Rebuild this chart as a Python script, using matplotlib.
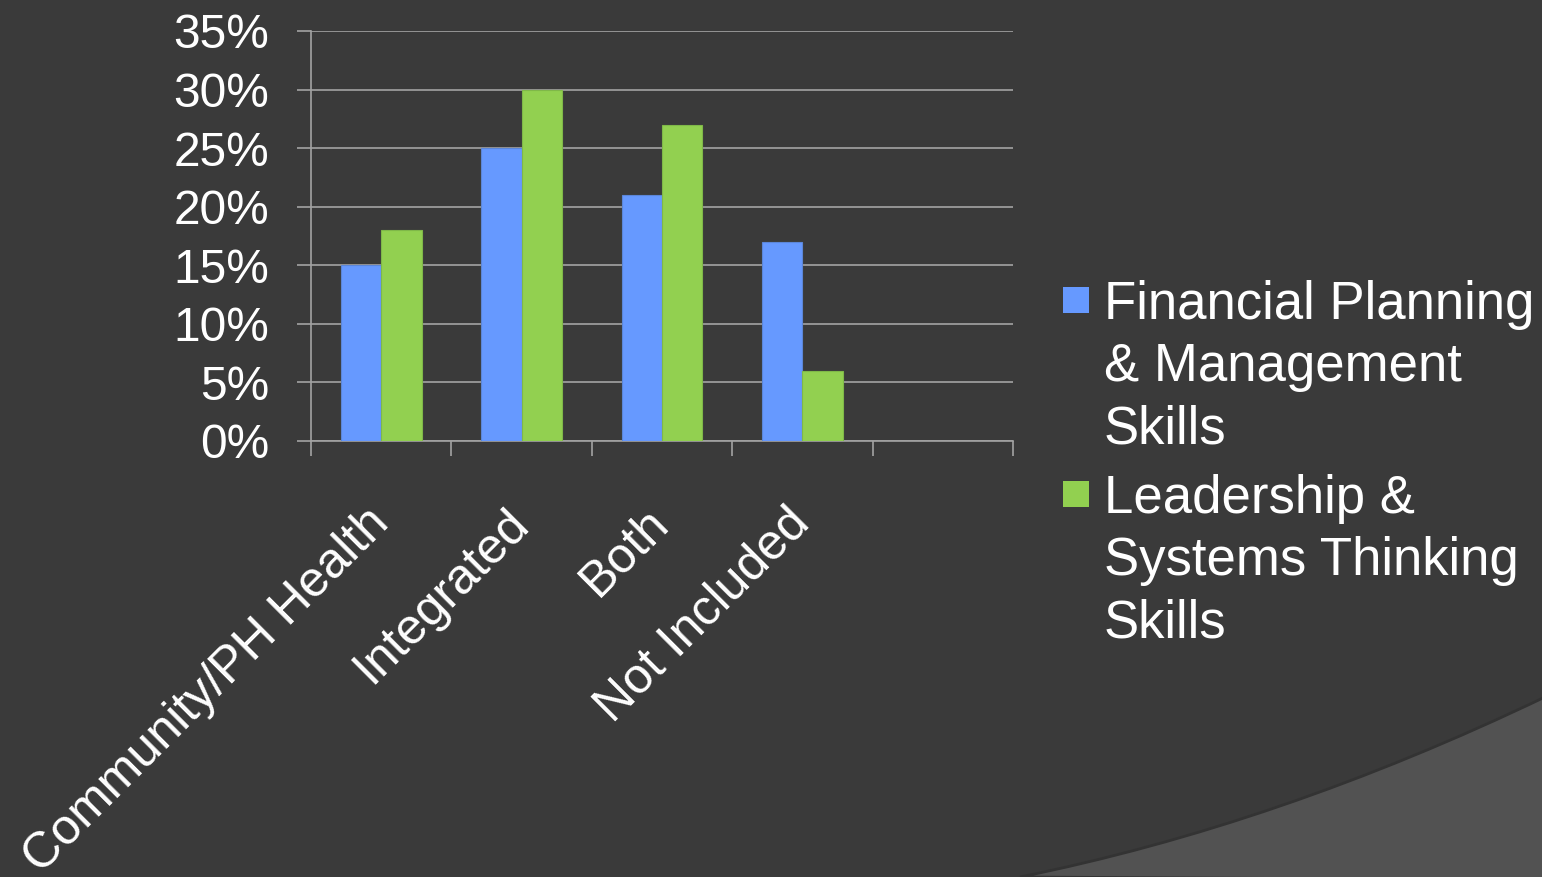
import numpy as np
import matplotlib
matplotlib.use("Agg")
import matplotlib.pyplot as plt
from matplotlib.patches import PathPatch, Rectangle
from matplotlib.path import Path
from matplotlib.ticker import FuncFormatter

categories = ["Community/PH Health", "Integrated", "Both", "Not Included"]
financial = [15, 25, 21, 17]
leadership = [18, 30, 27, 6]
series_labels = ["Financial Planning\n& Management\nSkills",
                 "Leadership &\nSystems Thinking\nSkills"]
y_ticks = [0, 5, 10, 15, 20, 25, 30, 35]

BG = "#3a3a3a"
BLUE = "#6699ff"
GREEN = "#92d050"
GRID = "#a3a3a3"

plt.rcParams["font.family"] = ["Liberation Sans", "DejaVu Sans"]

W, H = 1542, 877
fig = plt.figure(figsize=(W / 100, H / 100), dpi=100, facecolor=BG)

# lighter curved panel in the lower right corner
def fx(px):
    return px / W

def fy(py):
    return 1 - py / H

verts = [(fx(1020), fy(877)), (fx(1278), fy(825)), (fx(1545), fy(697)),
         (fx(1545), fy(880)), (fx(1020), fy(880))]
codes = [Path.MOVETO, Path.CURVE3, Path.CURVE3, Path.LINETO, Path.CLOSEPOLY]
fig.patches.append(PathPatch(Path(verts, codes), transform=fig.transFigure,
                             facecolor="#525252", edgecolor="#333333",
                             linewidth=2, zorder=0))

ax = fig.add_axes([fx(311), fy(441), fx(1013) - fx(311), fy(31) - fy(441)])
ax.set_facecolor("none")

x = np.arange(len(categories))
w = 0.288
b1 = ax.bar(x - w / 2, financial, w, color=BLUE, edgecolor="#5b86d8", linewidth=0.8, zorder=3)
b2 = ax.bar(x + w / 2, leadership, w, color=GREEN, edgecolor="#7fb848", linewidth=0.8, zorder=3)

ax.set_xlim(-0.5, len(categories) + 0.5)
ax.set_ylim(0, 35)
ax.set_yticks(y_ticks)
ax.yaxis.set_major_formatter(FuncFormatter(lambda v, p: f"{v:.0f}%"))
ax.grid(axis="y", color=GRID, linewidth=1.2, zorder=0)

ax.set_xticks(np.arange(-0.5, len(categories) + 1, 1))
ax.set_xticklabels([])
ax.set_xticks(x, categories, minor=True)
ax.tick_params(axis="x", which="major", length=11, width=1.2, color=GRID)
ax.tick_params(axis="x", which="minor", length=0, pad=54, labelsize=36, labelcolor="white")
for lab in ax.get_xticklabels(minor=True):
    lab.set_rotation(45)
    lab.set_ha("right")
    lab.set_va("center")
    lab.set_rotation_mode("anchor")

ax.tick_params(axis="y", length=10, width=1.2, color=GRID, pad=20, labelsize=34.5, labelcolor="white")

for s in ["top", "right"]:
    ax.spines[s].set_visible(False)
for s in ["left", "bottom"]:
    ax.spines[s].set_color(GRID)
    ax.spines[s].set_linewidth(1.2)

# legend, drawn by hand so the swatch sits on the first line
for bars, label, ytop in [(b1, series_labels[0], 287), (b2, series_labels[1], 481)]:
    fig.patches.append(Rectangle((fx(1063), fy(ytop + 26)), fx(26), 26 / H,
                                 transform=fig.transFigure,
                                 facecolor=bars.patches[0].get_facecolor(),
                                 edgecolor="none"))
    fig.text(fx(1104), fy(ytop - 7), label, color="white", fontsize=38,
             va="top", ha="left", linespacing=1.31)

fig.savefig("out.png", dpi=100, facecolor=BG)
